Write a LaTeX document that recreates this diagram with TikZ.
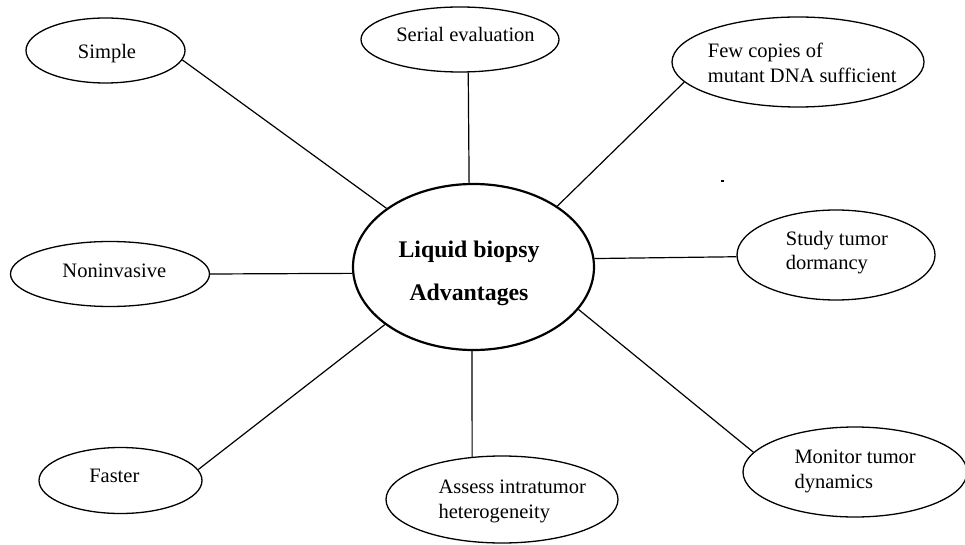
\documentclass[tikz,border=0pt]{standalone}
\usepackage{fontspec}
\setmainfont{Liberation Serif}
\usetikzlibrary{shapes.geometric}
\begin{document}
\begin{tikzpicture}[x=1pt,y=-1pt,
  oval/.style={ellipse, draw, line width=1.3pt, inner sep=0pt},
  hub/.style={ellipse, draw, line width=2.2pt, inner sep=0pt},
  lbl/.style={inner sep=0pt, font=\fontsize{20.5}{24.5}\selectfont, align=left},
  hublbl/.style={inner sep=0pt, font=\fontsize{23.8}{43}\selectfont\bfseries, align=center},
  link/.style={line width=1.2pt}]
\useasboundingbox (0,0) rectangle (965,545);
% ellipses
\node[hub, minimum width=241pt, minimum height=166pt] (hub) at (473.5,267) {};
\node[oval, minimum width=159pt, minimum height=65pt] (simple) at (105.5,50.5) {};
\node[oval, minimum width=198pt, minimum height=65pt] (serial) at (460,39.5) {};
\node[oval, minimum width=252pt, minimum height=90pt] (few) at (798,62) {};
\node[oval, minimum width=199pt, minimum height=65pt] (noninv) at (110,274) {};
\node[oval, minimum width=198pt, minimum height=90pt] (study) at (836,255) {};
\node[oval, minimum width=163pt, minimum height=66pt] (faster) at (120.5,480.5) {};
\node[oval, minimum width=232pt, minimum height=87pt] (assess) at (502,499.5) {};
\node[oval, minimum width=224pt, minimum height=90pt] (monitor) at (855,472) {};
% texts (multi-line nodes: base anchor is the last line's baseline)
\node[hublbl, anchor=base] (hubt) at (469,300) {Liquid biopsy\\Advantages};
\node[lbl, anchor=base] (simplet) at (107,58.5) {Simple};
\node[lbl, anchor=base] (serialt) at (465.5,42) {Serial evaluation};
\node[lbl, anchor=base west] (fewt) at (707.7,82.3) {Few copies of\\mutant DNA sufficient};
\node[lbl, anchor=base] (noninvt) at (114.3,277) {Noninvasive};
\node[lbl, anchor=base west] (studyt) at (785.7,269.5) {Study tumor\\dormancy};
\node[lbl, anchor=base] (fastert) at (114.3,482) {Faster};
\node[lbl, anchor=base west] (assesst) at (438.3,518) {Assess intratumor\\heterogeneity};
\node[lbl, anchor=base west] (monitort) at (794.3,488.3) {Monitor tumor\\dynamics};
% connectors
\draw[link] (simple.-7) -- (hub.146.25);
\draw[link] (serial.-76.1) -- (hub.93.8);
\draw[link] (few.190.35) -- (hub.36.1);
\draw[link] (noninv.east) -- (hub.183.3);
\draw[link] (study.181.2) -- (hub.4.78);
\draw[link] (faster.8.2) -- (hub.213.8);
\draw[link] (assess.125.5) -- (hub.269);
\draw[link] (monitor.169) -- (hub.-22.8);
% stray mark
\fill (720.5,180) rectangle (723.5,182);
\end{tikzpicture}
\end{document}
